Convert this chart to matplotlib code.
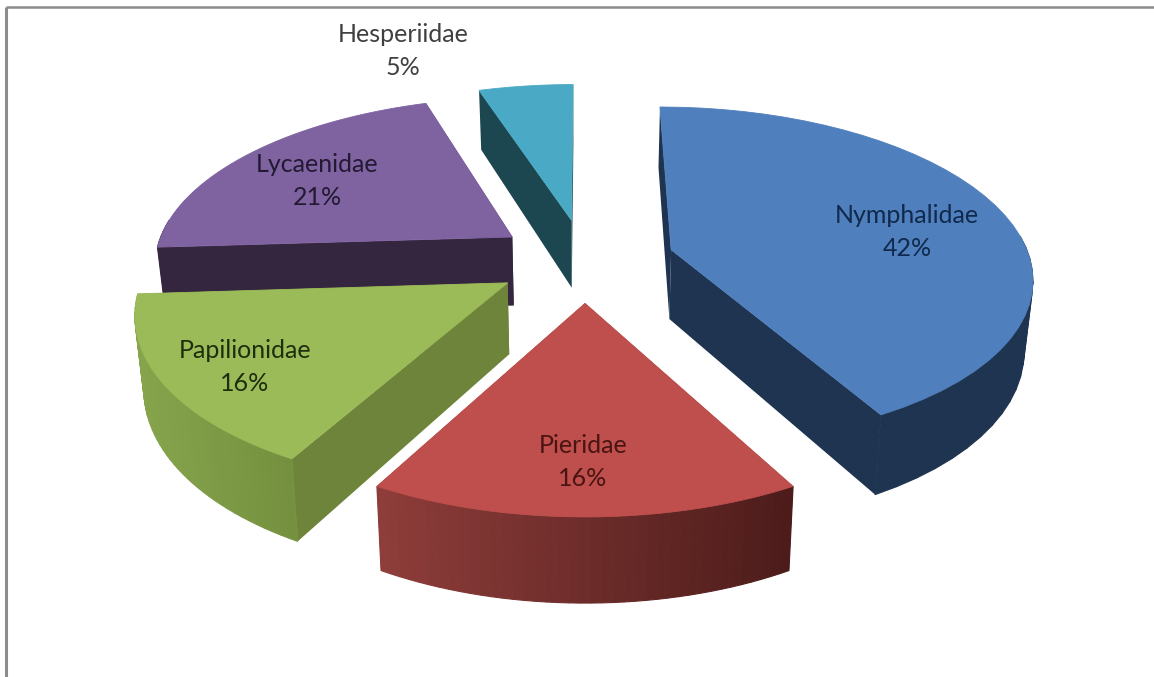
import numpy as np
import matplotlib
matplotlib.use('Agg')
import matplotlib.pyplot as plt
from matplotlib.colors import to_rgb

# pie data, clockwise from 12 o'clock
families = ['Nymphalidae', 'Pieridae', 'Papilionidae', 'Lycaenidae', 'Hesperiidae']
shares = [42, 16, 16, 21, 5]

top_colors = ['#4F7FBC', '#BE4F4C', '#9BBA58', '#7F62A0', '#4AA9C5']
wall_left = ['#1F3450', '#8E3D3A', '#86A44C', '#35263F', '#1C4650']
wall_right = ['#1F3450', '#4C1C1A', '#74903F', '#35263F', '#1C4650']
side_colors = ['#1F3450', '#4C1C1A', '#6E843A', '#35263F', '#1C4650']
text_colors = ['#10294C', '#4A1412', '#1E2E0C', '#221A33', '#404040']
label_pos = [(907, 232), (583, 462), (245, 367), (317, 181), (403, 51)]

# fake 3d projection
cx, cy = 585, 260
R, B, k = 359, 167, 0.15
explode = 0.25
depth = 70


def project(X, Z):
    p = 1 / (1 - k * Z)
    return cx + R * X * p, cy + B * Z * p, p


def lower(x, y, p):
    return cx + (x - cx) * 0.98, y + depth * p


fig = plt.figure(figsize=(11.54, 6.77), dpi=100)
ax = fig.add_axes([0, 0, 1, 1])
ax.set_xlim(0, 1154)
ax.set_ylim(677, 0)
ax.axis('off')

# chart frame
ax.plot([6, 6], [677, 7], color='#8C8C8C', lw=2.2, solid_capstyle='butt')
ax.plot([6, 1154], [7, 7], color='#8C8C8C', lw=1.8, solid_capstyle='butt')

edges = np.cumsum([0] + shares) * 3.6
draw_order = [4, 3, 0, 2, 1]  # back to front

for i in draw_order:
    a0, a1 = edges[i], edges[i + 1]
    mid = np.radians((a0 + a1) / 2)
    ox, oz = explode * np.sin(mid), -explode * np.cos(mid)
    th = np.radians(np.linspace(a0, a1, 40))
    X = np.concatenate([[ox], ox + np.sin(th)])
    Z = np.concatenate([[oz], oz - np.cos(th)])
    x, y, p = project(X, Z)
    xb, yb = lower(x, y, p)

    # the two straight cut faces
    for j in (1, len(x) - 1):
        ax.fill([x[0], x[j], xb[j], xb[0]], [y[0], y[j], yb[j], yb[0]],
                fc=side_colors[i], ec='none', lw=0)

    # curved wall, front part only, shaded left to right
    c_l, c_r = np.array(to_rgb(wall_left[i])), np.array(to_rgb(wall_right[i]))
    xmin, xmax = x[1:].min(), x[1:].max()
    for j in range(1, len(x) - 1):
        ang = np.degrees(th[j - 1])
        if ang < 85 or ang > 275:
            continue
        t = (xmax - (x[j] + x[j + 1]) / 2) / (xmax - xmin)
        col = c_l * t + c_r * (1 - t)
        ax.fill([x[j], x[j + 1], xb[j + 1], xb[j]], [y[j], y[j + 1], yb[j + 1], yb[j]],
                fc=col, ec=col, lw=0.8)

    ax.fill(x, y, fc=top_colors[i], ec=top_colors[i], lw=0.6)

for i, name in enumerate(families):
    ax.text(label_pos[i][0], label_pos[i][1], '%s\n%d%%' % (name, shares[i]),
            ha='center', va='center', family='Lato', fontsize=18,
            color=text_colors[i], linespacing=1.55)

plt.savefig('out.png', dpi=100)
